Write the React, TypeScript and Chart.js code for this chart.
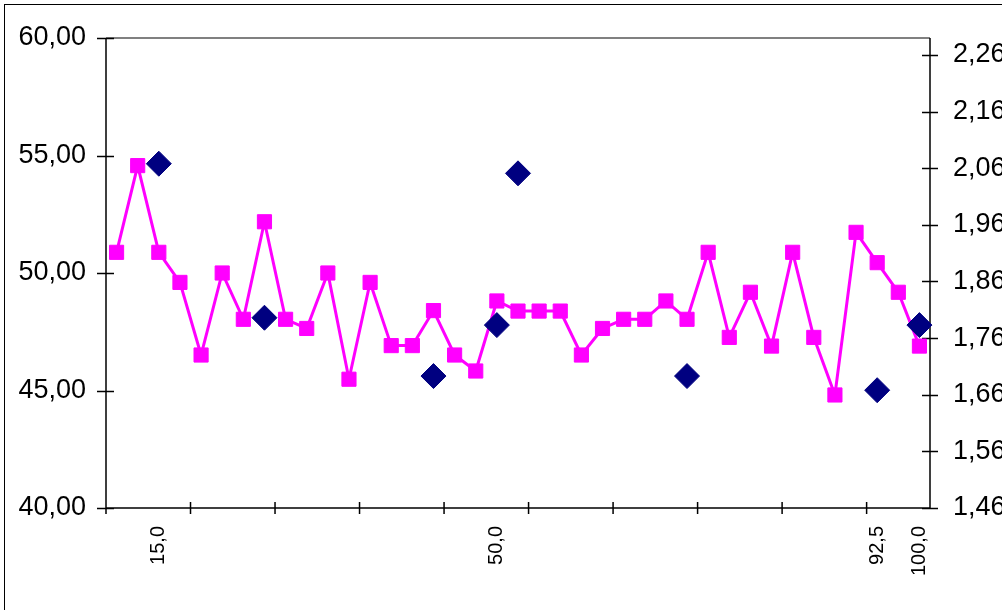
import React, { useEffect, useRef } from 'react';
import { Chart, registerables } from 'chart.js';

Chart.register(...registerables);

const categories = ['', '', '15,0', '', '', '', '', '', '', '', '', '', '', '', '', '', '', '', '50,0', '', '', '', '', '', '', '', '', '', '', '', '', '', '', '', '', '', '92,5', '', '100,0'];

const magentaValues = [50.88, 54.57, 50.88, 49.6, 46.51, 50.0, 48.03, 52.18, 48.03, 47.64, 50.0, 45.48, 49.6, 46.91, 46.91, 48.4, 46.51, 45.83, 48.81, 48.38, 48.38, 48.38, 46.51, 47.64, 48.03, 48.03, 48.81, 48.03, 50.88, 47.26, 49.18, 46.89, 50.88, 47.26, 44.81, 51.73, 50.44, 49.18, 46.89];

const diamondValues = [null, null, 2.068, null, null, null, null, 1.796, null, null, null, null, null, null, null, 1.693, null, null, 1.783, 2.051, null, null, null, null, null, null, null, 1.693, null, null, null, null, null, null, null, null, 1.668, null, 1.783];

const leftTicks = [40, 45, 50, 55, 60];
const rightTicks = [1.46, 1.56, 1.66, 1.76, 1.86, 1.96, 2.06, 2.16, 2.26];
const rightMax = 2.29;
const xTickEvery = 4;

const FONT = '"Liberation Sans", Arial, sans-serif';

const excelAxes = {
  id: 'excelAxes',
  beforeDatasetsDraw(chart: any) {
    const { ctx, chartArea: a, scales } = chart;
    ctx.save();
    ctx.strokeStyle = '#808080';
    ctx.lineWidth = 2;
    ctx.beginPath();
    ctx.moveTo(a.left, a.top);
    ctx.lineTo(a.right, a.top);
    ctx.stroke();

    ctx.strokeStyle = '#000';
    ctx.lineWidth = 1.5;
    ctx.beginPath();
    ctx.moveTo(a.left, a.top);
    ctx.lineTo(a.left, a.bottom);
    ctx.moveTo(a.right, a.top);
    ctx.lineTo(a.right, a.bottom);
    ctx.moveTo(a.left, a.bottom);
    ctx.lineTo(a.right, a.bottom);
    const y = scales.y;
    y.ticks.forEach((t: any) => {
      const p = Math.round(y.getPixelForValue(t.value)) + 0.5;
      ctx.moveTo(a.left - 9, p);
      ctx.lineTo(a.left + 8, p);
    });
    const y1 = scales.y1;
    y1.ticks.forEach((t: any) => {
      const p = Math.round(y1.getPixelForValue(t.value)) + 0.5;
      ctx.moveTo(a.right - 8, p);
      ctx.lineTo(a.right + 8, p);
    });
    const x = scales.x;
    const n = categories.length;
    const step = (a.right - a.left) / n;
    for (let i = 0; i < n; i += xTickEvery) {
      const p = x.getPixelForValue(i) - step / 2;
      ctx.moveTo(p, a.bottom - 6);
      ctx.lineTo(p, a.bottom + 6);
    }
    ctx.stroke();
    ctx.restore();
  },
};

const fmt2 = (v: number) => v.toFixed(2).replace('.', ',');

export default function App() {
  const ref = useRef<HTMLCanvasElement>(null);
  useEffect(() => {
    const chart = new Chart(ref.current!, {
      type: 'line',
      data: {
        labels: categories,
        datasets: [
          {
            data: magentaValues,
            yAxisID: 'y',
            borderColor: '#FF00FF',
            backgroundColor: '#FF00FF',
            borderWidth: 3,
            pointStyle: 'rect',
            pointRadius: 10,
            pointBorderWidth: 1,
            pointBorderColor: '#FF00FF',
            pointBackgroundColor: '#FF00FF',
            tension: 0,
            clip: false,
            order: 2,
          },
          {
            data: diamondValues,
            yAxisID: 'y1',
            showLine: false,
            borderColor: '#000080',
            backgroundColor: '#000080',
            pointStyle: 'rectRot',
            pointRadius: 12.5,
            pointBorderWidth: 1,
            pointBorderColor: '#000080',
            pointBackgroundColor: '#000080',
            clip: false,
            order: 1,
          },
        ],
      },
      options: {
        animation: false,
        responsive: false,
        events: [],
        layout: { padding: { top: 38, left: 0, right: 0, bottom: 0 }, autoPadding: false },
        plugins: { legend: { display: false }, tooltip: { enabled: false } },
        scales: {
          x: {
            type: 'category',
            offset: true,
            grid: { display: false },
            border: { display: false },
            ticks: {
              autoSkip: false,
              minRotation: 90,
              maxRotation: 90,
              padding: 10,
              color: '#000',
              font: { family: FONT, size: 20 },
            },
            afterFit: (s: any) => { s.height = 102; },
          },
          y: {
            position: 'left',
            min: 40,
            max: 60,
            grid: { display: false },
            border: { display: false },
            afterBuildTicks: (s: any) => { s.ticks = leftTicks.map((v) => ({ value: v })); },
            ticks: {
              padding: 12,
              color: '#000',
              font: { family: FONT, size: 27 },
              callback: (v: any) => fmt2(Number(v)),
            },
            afterFit: (s: any) => { s.width = 106; },
          },
          y1: {
            position: 'right',
            min: rightTicks[0],
            max: rightMax,
            grid: { display: false },
            border: { display: false },
            afterBuildTicks: (s: any) => { s.ticks = rightTicks.map((v) => ({ value: v })); },
            ticks: {
              padding: 15,
              color: '#000',
              font: { family: FONT, size: 27 },
              callback: (v: any) => fmt2(Number(v)),
            },
            afterFit: (s: any) => { s.width = 72; },
          },
        },
      },
      plugins: [excelAxes],
    } as any);
    return () => chart.destroy();
  }, []);

  return (
    <div style={{ position: 'fixed', left: 0, top: 0, width: 1002, height: 610, overflow: 'hidden', background: '#fff' }}>
      <canvas ref={ref} width={1002} height={610} style={{ position: 'absolute', left: 0, top: 0, width: 1002, height: 610 }} />
      <div style={{ position: 'absolute', left: 4, top: 4, width: 1100, height: 700, border: '1px solid #000', pointerEvents: 'none' }} />
    </div>
  );
}
